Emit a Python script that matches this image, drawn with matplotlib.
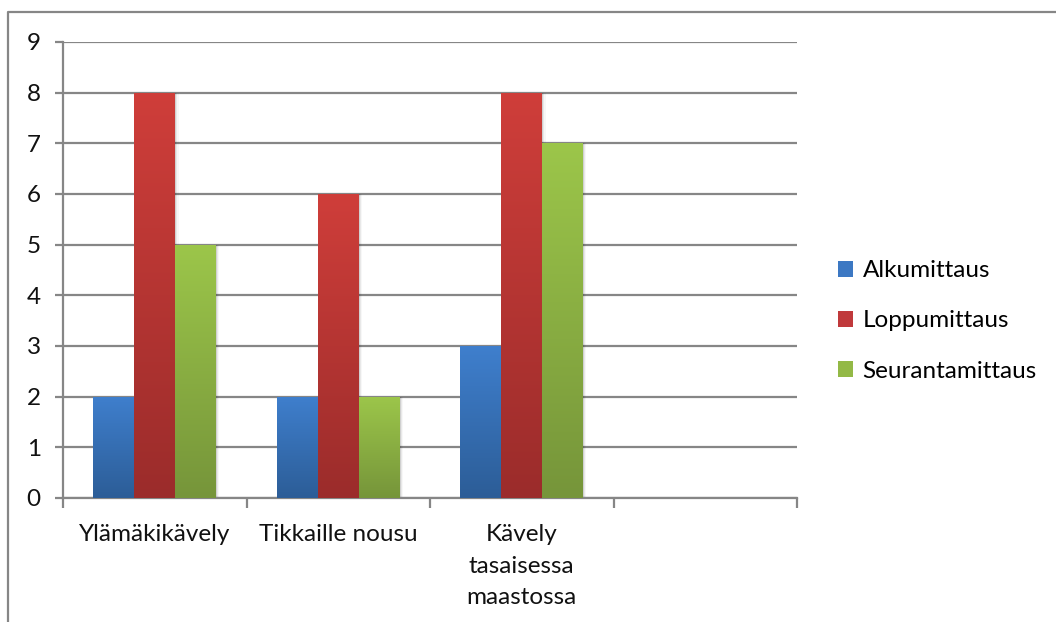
import numpy as np
import matplotlib
matplotlib.use("Agg")
import matplotlib.pyplot as plt
from matplotlib.patches import Patch
from matplotlib.colors import LinearSegmentedColormap
from matplotlib.lines import Line2D

categories = ["Ylämäkikävely", "Tikkaille nousu", "Kävely\ntasaisessa\nmaastossa", ""]
series_names = ["Alkumittaus", "Loppumittaus", "Seurantamittaus"]
alkumittaus = [2, 2, 3, None]
loppumittaus = [8, 6, 8, None]
seurantamittaus = [5, 2, 7, None]
y_ticks = list(range(0, 10))

# (top colour, bottom colour) for each series gradient
gradients = [
    ("#3f7fcd", "#2c5d97"),
    ("#cf3e3a", "#9b2c2b"),
    ("#9cc64a", "#76953a"),
]
legend_colors = ["#3c78c3", "#c0393b", "#93b946"]

plt.rcParams["font.family"] = ["Lato", "DejaVu Sans"]
FS = 17.5

fig = plt.figure(figsize=(10.56, 6.22), dpi=100)
ax = fig.add_axes([63 / 1056, 1 - 498 / 622, (797 - 63) / 1056, (498 - 42) / 622])

grid_color = "#868686"
n_cat = len(categories)
x = np.arange(n_cat)
width = 0.223
offsets = [-width, 0, width]
all_series = [alkumittaus, loppumittaus, seurantamittaus]

ax.set_xlim(-0.5, n_cat - 0.5)
ax.set_ylim(0, 9)

for s_idx, values in enumerate(all_series):
    top_c, bot_c = gradients[s_idx]
    cmap = LinearSegmentedColormap.from_list(f"g{s_idx}", [bot_c, top_c])
    for i, v in enumerate(values):
        if v is None:
            continue
        xc = x[i] + offsets[s_idx]
        # soft shadow on the right side
        for k, a in enumerate([0.10, 0.06, 0.03]):
            ax.bar(xc + 0.006 * (k + 1), v, width=width, color="black",
                   alpha=a, linewidth=0, zorder=2.5)
        bar = ax.bar(xc, v, width=width, color=legend_colors[s_idx],
                     linewidth=0, zorder=3)[0]
        grad = np.linspace(0, 1, 256).reshape(-1, 1)
        im = ax.imshow(grad, cmap=cmap, aspect="auto", origin="lower",
                       extent=[xc - width / 2, xc + width / 2, 0, v],
                       zorder=3.1, interpolation="bicubic")
        im.set_clip_path(bar)

ax.set_xlim(-0.5, n_cat - 0.5)
ax.set_ylim(0, 9)

# gridlines
ax.set_yticks(y_ticks)
ax.yaxis.grid(True, color=grid_color, linewidth=1.6, zorder=1)
ax.set_axisbelow(True)

ax.set_xticks(x)
ax.set_xticklabels(categories, fontsize=FS, color="#111111", linespacing=1.6)
ax.set_xticks(np.arange(-0.5, n_cat, 1), minor=True)
ax.tick_params(axis="x", which="major", length=0, pad=19)
ax.tick_params(axis="x", which="minor", length=7, width=1.6, color=grid_color)
ax.tick_params(axis="y", length=6, width=1.6, color=grid_color, labelsize=FS,
               labelcolor="#111111", pad=10)

for side in ["top", "right"]:
    ax.spines[side].set_visible(False)
for side in ["left", "bottom"]:
    ax.spines[side].set_color(grid_color)
    ax.spines[side].set_linewidth(1.6)

handles = [Patch(facecolor=c, edgecolor="none") for c in legend_colors]
fig.legend(handles, series_names, loc="center left",
           bbox_to_anchor=(816 / 1056, 1 - 321 / 622), frameon=False,
           fontsize=FS, handlelength=0.62, handleheight=0.62,
           handletextpad=0.4, labelspacing=1.2)

# chart border
fig.add_artist(Line2D([8 / 1056, 8 / 1056, 1.0], [0.0, 1 - 12 / 622, 1 - 12 / 622],
                      transform=fig.transFigure, color=grid_color, linewidth=1.6))

fig.savefig("out.png", dpi=100)
